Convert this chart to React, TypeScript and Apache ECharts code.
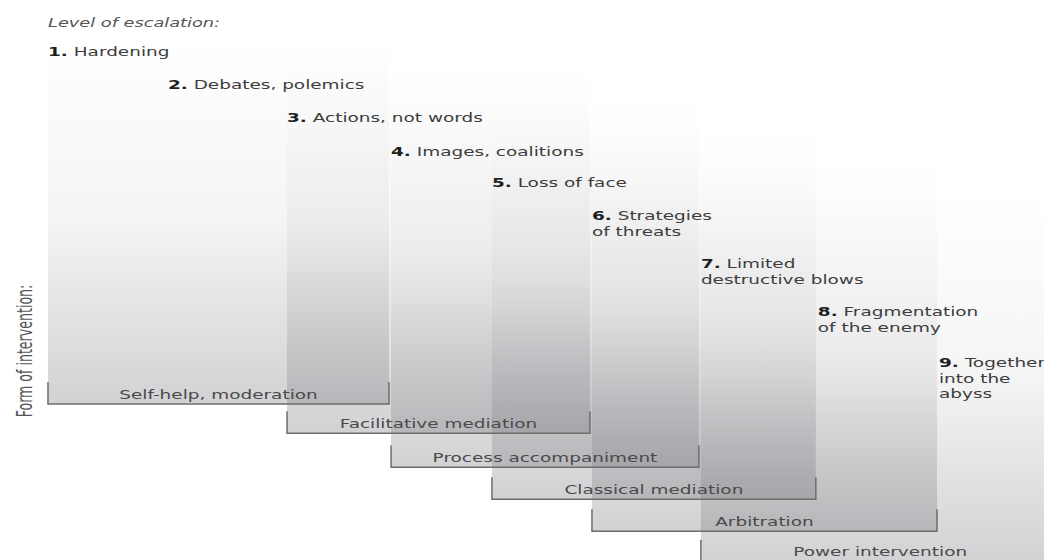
import React, { useEffect, useRef } from "react";
import * as echarts from "echarts";

// ---- data ----
const headerText = "Level of escalation:";
const sideTitle = "Form of intervention:";

const levelNumbers = ["1.", "2.", "3.", "4.", "5.", "6.", "7.", "8.", "9."];
const levelNames = [
  "Hardening",
  "Debates, polemics",
  "Actions, not words",
  "Images, coalitions",
  "Loss of face",
  "Strategies\nof threats",
  "Limited\ndestructive blows",
  "Fragmentation\nof the enemy",
  "Together\ninto the\nabyss",
];
// position of each escalation level along the horizontal axis (10th = edge beyond level 9)
const levelEdge = [1, 2.077, 3.146, 4.08, 4.986, 5.884, 6.862, 7.912, 9.0, 10.1];
// vertical row of each level label
const levelRow = [1, 2, 3, 4.03, 4.97, 5.97, 7.42, 8.88, 10.42];

const interventions = [
  "Self-help, moderation",
  "Facilitative mediation",
  "Process accompaniment",
  "Classical mediation",
  "Arbitration",
  "Power intervention",
];
const interventionFrom = [1, 3, 4, 5, 6, 7];
const interventionTo = [4, 6, 7, 8, 9, 10];
const interventionRow = [11.67, 12.55, 13.58, 14.55, 15.52, 16.45];

export default function App() {
  const ref = useRef<HTMLDivElement>(null);

  useEffect(() => {
    document.body.style.margin = "0";
    const chart = echarts.init(ref.current!, null, { renderer: "svg" });
    const font = "'DejaVu Sans', Verdana, sans-serif";
    const stretch = 1.42;
    const colHeight = 370;

    const spanData = interventions.map((_, i) => [
      levelEdge[interventionFrom[i] - 1],
      levelEdge[interventionTo[i] - 1],
      interventionRow[i],
    ]);
    const levelData = levelNames.map((_, i) => [levelEdge[i], levelRow[i]]);

    const makeFill = () =>
      new echarts.graphic.LinearGradient(0, 0, 0, 1, [
        { offset: 0, color: "rgba(105,105,112,0)" },
        { offset: 0.5, color: "rgba(105,105,112,0.07)" },
        { offset: 1, color: "rgba(105,105,112,0.3)" },
      ]);

    chart.setOption({
      animation: false,
      grid: { left: 48, right: 105, top: 19, bottom: 13 },
      xAxis: { type: "value", min: 1, max: 9, show: false },
      yAxis: { type: "value", min: 0, max: 16, inverse: true, show: false },
      tooltip: { show: false },
      graphic: [
        {
          type: "text",
          x: 48,
          y: 23,
          scaleX: stretch,
          silent: true,
          style: {
            text: headerText,
            fontFamily: font,
            fontSize: 12.5,
            fontStyle: "italic",
            fill: "#555555",
            align: "left",
            verticalAlign: "middle",
          },
        },
        {
          type: "text",
          x: 24,
          y: 351,
          rotation: Math.PI / 2,
          scaleY: 1.55,
          silent: true,
          style: {
            text: sideTitle,
            fontFamily: "'Liberation Sans Narrow', 'DejaVu Sans Condensed', sans-serif",
            fontSize: 14,
            fill: "#555555",
            align: "center",
            verticalAlign: "middle",
          },
        },
      ],
      series: [
        {
          type: "custom",
          name: "columns",
          silent: true,
          emphasis: { disabled: true },
          data: spanData,
          renderItem: (params: any, api: any) => {
            const [px0, pb] = api.coord([api.value(0), api.value(2)]);
            const [px1] = api.coord([api.value(1), api.value(2)]);
            const top = pb - colHeight;
            return {
              type: "rect",
              shape: { x: px0, y: top, width: px1 - 2 - px0, height: pb - top },
              style: { fill: makeFill() },
            };
          },
        },
        {
          type: "custom",
          name: "brackets",
          silent: true,
          emphasis: { disabled: true },
          data: spanData,
          renderItem: (params: any, api: any) => {
            const [px0, pb] = api.coord([api.value(0), api.value(2)]);
            const [px1] = api.coord([api.value(1), api.value(2)]);
            const r = px1 - 2;
            return {
              type: "group",
              children: [
                {
                  type: "polyline",
                  shape: {
                    points: [
                      [px0, pb - 22],
                      [px0, pb],
                      [r, pb],
                      [r, pb - 22],
                    ],
                  },
                  style: { stroke: "#6e6e6e", lineWidth: 1.5, fill: null },
                },
                {
                  type: "text",
                  x: (px0 + r) / 2,
                  y: pb - 10,
                  scaleX: stretch,
                  style: {
                    text: interventions[params.dataIndex],
                    fontFamily: font,
                    fontSize: 13,
                    fill: "#4a4a4a",
                    align: "center",
                    verticalAlign: "middle",
                  },
                },
              ],
            };
          },
        },
        {
          type: "custom",
          name: "levels",
          silent: true,
          emphasis: { disabled: true },
          data: levelData,
          renderItem: (params: any, api: any) => {
            const [px, py] = api.coord([api.value(0), api.value(1)]);
            const i = params.dataIndex;
            return {
              type: "text",
              x: px,
              y: py - 8,
              scaleX: stretch,
              style: {
                text: `{n|${levelNumbers[i]}} ${levelNames[i]}`,
                fontFamily: font,
                fontSize: 13,
                lineHeight: 15.6,
                fill: "#3d3d3d",
                align: "left",
                verticalAlign: "top",
                rich: {
                  n: {
                    fontFamily: font,
                    fontSize: 13,
                    fontWeight: "bold",
                    lineHeight: 15.6,
                    fill: "#1e1e1e",
                  },
                },
              },
            };
          },
        },
      ],
    });

    return () => chart.dispose();
  }, []);

  return <div ref={ref} style={{ width: 1044, height: 560 }} />;
}
